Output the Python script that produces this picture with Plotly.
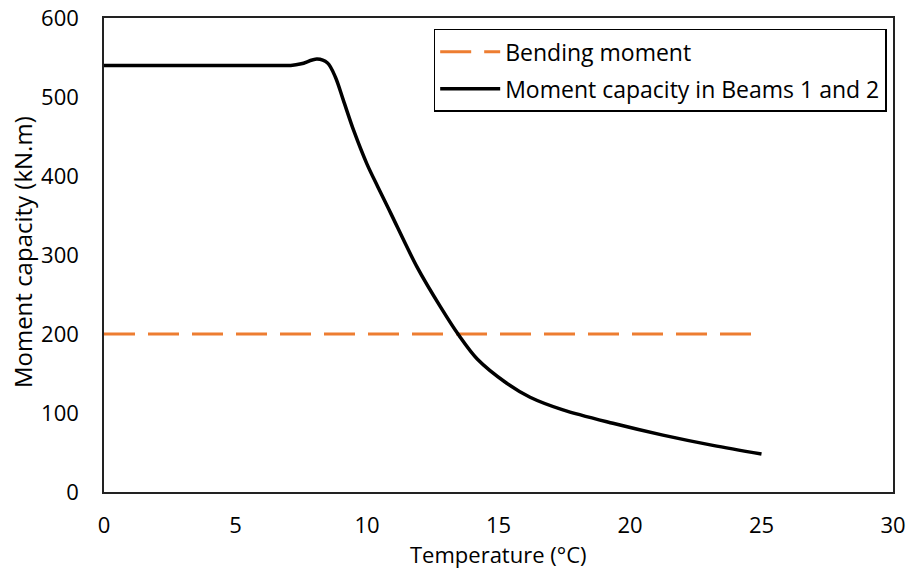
import plotly.graph_objects as go

# ─── data ─────────────────────────────────────────────────────────────────────
temp_capacity = [0, 2, 4, 6, 7.1, 7.5, 8.1, 8.5, 8.8, 9.1, 9.5, 10.0, 10.4, 10.9, 11.9,
                 12.8, 13.5, 14.2, 15.3, 16.2, 17.45, 19.35, 21.25, 23.15, 25.0]
moment_capacity = [540, 540, 540, 540, 540, 542, 548, 543, 525, 496, 457, 415, 387, 353, 285,
                   234, 198, 168, 138, 120, 104, 87, 72, 59, 48]

temp_bending = [0, 25]
bending_moment = [200, 200]

x_ticks = [0, 5, 10, 15, 20, 25, 30]
y_ticks = [0, 100, 200, 300, 400, 500, 600]

FONT = "Open Sans, sans-serif"
ORANGE = "#ed7d31"

fig = go.Figure()

fig.add_trace(go.Scatter(
    x=temp_bending, y=bending_moment, mode="lines",
    name="Bending moment", legendgroup="a",
    line=dict(color=ORANGE, width=3, dash="31px,13px"),
))
fig.add_trace(go.Scatter(
    x=temp_capacity, y=moment_capacity, mode="lines",
    name="Moment capacity in Beams 1 and 2", legendgroup="b",
    line=dict(color="black", width=3.5, shape="spline", smoothing=0.9),
))

axis_common = dict(showgrid=False, zeroline=False, showline=True, mirror=True,
                   linecolor="#222", linewidth=1.5, ticks="", automargin=False,
                   tickfont=dict(size=22, color="black", family=FONT))

# axis titles as annotations so they sit exactly where the reference has them
fig.add_annotation(text="Temperature (°C)", xref="paper", yref="paper",
                   x=0.5, y=-0.131, xanchor="center", yanchor="middle",
                   showarrow=False, font=dict(size=22, color="black", family=FONT))
fig.add_annotation(text="Moment capacity (kN.m)", xref="paper", yref="paper",
                   x=-0.104, y=0.506, xanchor="center", yanchor="middle", textangle=-90,
                   showarrow=False, font=dict(size=24, color="black", family=FONT))

fig.update_layout(
    width=909, height=570,
    paper_bgcolor="white", plot_bgcolor="white",
    margin=dict(l=104, r=16, t=18, b=78),
    font=dict(family=FONT, color="black"),
    xaxis=dict(**axis_common, range=[0, 30], tickvals=x_ticks, ticklabelstandoff=13),
    yaxis=dict(**axis_common, range=[0, 600], tickvals=y_ticks, ticklabelstandoff=19),
    legend=dict(x=0.992, y=0.977, xanchor="right", yanchor="top",
                bordercolor="black", borderwidth=1.5, bgcolor="white",
                font=dict(size=23, color="black", family=FONT),
                tracegroupgap=4, itemwidth=60),
    showlegend=True,
)

fig.write_html("out.html", config={"displayModeBar": False},
               post_script="document.body.style.margin='0';")
